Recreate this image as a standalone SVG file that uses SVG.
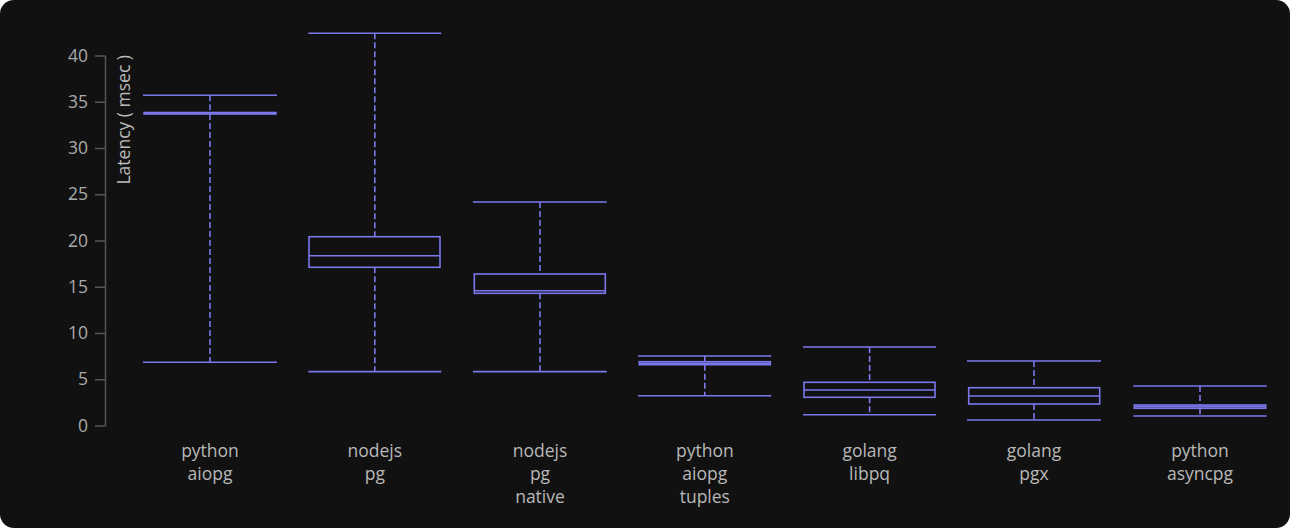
<svg xmlns="http://www.w3.org/2000/svg" width="1290" height="528" viewBox="0 0 1290 528">
<style>
.bg{fill:#111111}
.axis{stroke:#555555;stroke-width:1.5;fill:none}
.tick{font-family:"Open Sans","Noto Sans",sans-serif;font-size:17.5px;fill:#aaaaaa;text-anchor:end}
.ylab{font-family:"Open Sans","Noto Sans",sans-serif;font-size:17.5px;fill:#bbbbbb;text-anchor:end}
.xl{font-family:"Open Sans","Noto Sans",sans-serif;font-size:17.5px;fill:#b8b8b8;text-anchor:middle}
.cap{stroke:#7b78ee;stroke-width:1.6;fill:none}
.box{stroke:#7b78ee;stroke-width:1.6;fill:none}
.wh{stroke:#7b78ee;stroke-width:1.6;stroke-dasharray:6 3;fill:none}
</style>
<rect class="bg" x="0" y="0" width="1290" height="528" rx="14"/>
<g id="axis">
<line class="axis" x1="105.5" y1="56" x2="105.5" y2="426"/>
<path class="axis" d="M95 56H105.5M95 102.25H105.5M95 148.5H105.5M95 194.75H105.5M95 241H105.5M95 287.25H105.5M95 333.5H105.5M95 379.75H105.5M95 426H105.5"/>
<text class="tick" x="88" y="62">40</text>
<text class="tick" x="88" y="108">35</text>
<text class="tick" x="88" y="154">30</text>
<text class="tick" x="88" y="200">25</text>
<text class="tick" x="88" y="247">20</text>
<text class="tick" x="88" y="293">15</text>
<text class="tick" x="88" y="339">10</text>
<text class="tick" x="88" y="385">5</text>
<text class="tick" x="88" y="432">0</text>
<text class="ylab" transform="translate(129.5,55) rotate(-90)">Latency ( msec )</text>
</g>
<g id="connectors">
<path class="wh" d="M210 95.3V112.5M210 114V362.3"/>
<path class="wh" d="M374.8 33.3V236.7M374.8 267.3V371.6"/>
<path class="wh" d="M540 202V274M540 293.3V371.6"/>
<path class="wh" d="M704.8 356V361.7M704.8 364.7V395.7"/>
<path class="wh" d="M869.6 347V382.3M869.6 397.3V414.7"/>
<path class="wh" d="M1034 361V387.7M1034 404V420"/>
<path class="wh" d="M1200 386V405M1200 408.3V416"/>
</g>
<g id="python-aiopg">
<path class="cap" d="M143 95.3H277M143 362.3H277"/>
<rect class="box" x="144" y="112.5" width="132" height="1.5" stroke-width="2"/>
<text class="xl" x="210" y="457">python</text>
<text class="xl" x="210" y="480">aiopg</text>
</g>
<g id="nodejs-pg">
<path class="cap" d="M308.3 33.3H441.3M308.3 371.6H441.3"/>
<rect class="box" x="309" y="236.7" width="131" height="30.6"/>
<line class="box" x1="309" y1="255.7" x2="440" y2="255.7"/>
<text class="xl" x="374.8" y="457">nodejs</text>
<text class="xl" x="374.8" y="480">pg</text>
</g>
<g id="nodejs-pg-native">
<path class="cap" d="M473 202H606.7M473 371.6H606.7"/>
<rect class="box" x="474.3" y="274" width="131" height="19.3"/>
<line class="box" x1="474.3" y1="290.7" x2="605.3" y2="290.7"/>
<text class="xl" x="540" y="457">nodejs</text>
<text class="xl" x="540" y="480">pg</text>
<text class="xl" x="540" y="503">native</text>
</g>
<g id="python-aiopg-tuples">
<path class="cap" d="M638 356H771.3M638 395.7H771.3"/>
<rect class="box" x="639.3" y="361.7" width="131" height="3"/>
<line class="box" x1="639.3" y1="363.2" x2="770.3" y2="363.2"/>
<text class="xl" x="704.8" y="457">python</text>
<text class="xl" x="704.8" y="480">aiopg</text>
<text class="xl" x="704.8" y="503">tuples</text>
</g>
<g id="golang-libpq">
<path class="cap" d="M803 347H936M803 414.7H936"/>
<rect class="box" x="804" y="382.3" width="131" height="15"/>
<line class="box" x1="804" y1="390" x2="935" y2="390"/>
<text class="xl" x="869.6" y="457">golang</text>
<text class="xl" x="869.6" y="480">libpq</text>
</g>
<g id="golang-pgx">
<path class="cap" d="M967 361H1101M967 420H1101"/>
<rect class="box" x="968.7" y="387.7" width="131" height="16.3"/>
<line class="box" x1="968.7" y1="396" x2="1099.7" y2="396"/>
<text class="xl" x="1034" y="457">golang</text>
<text class="xl" x="1034" y="480">pgx</text>
</g>
<g id="python-asyncpg">
<path class="cap" d="M1133.3 386H1266.7M1133.3 416H1266.7"/>
<rect class="box" x="1134.3" y="405" width="131.4" height="3.3"/>
<line class="box" x1="1134.3" y1="406.6" x2="1265.7" y2="406.6"/>
<text class="xl" x="1200" y="457">python</text>
<text class="xl" x="1200" y="480">asyncpg</text>
</g>
</svg>
